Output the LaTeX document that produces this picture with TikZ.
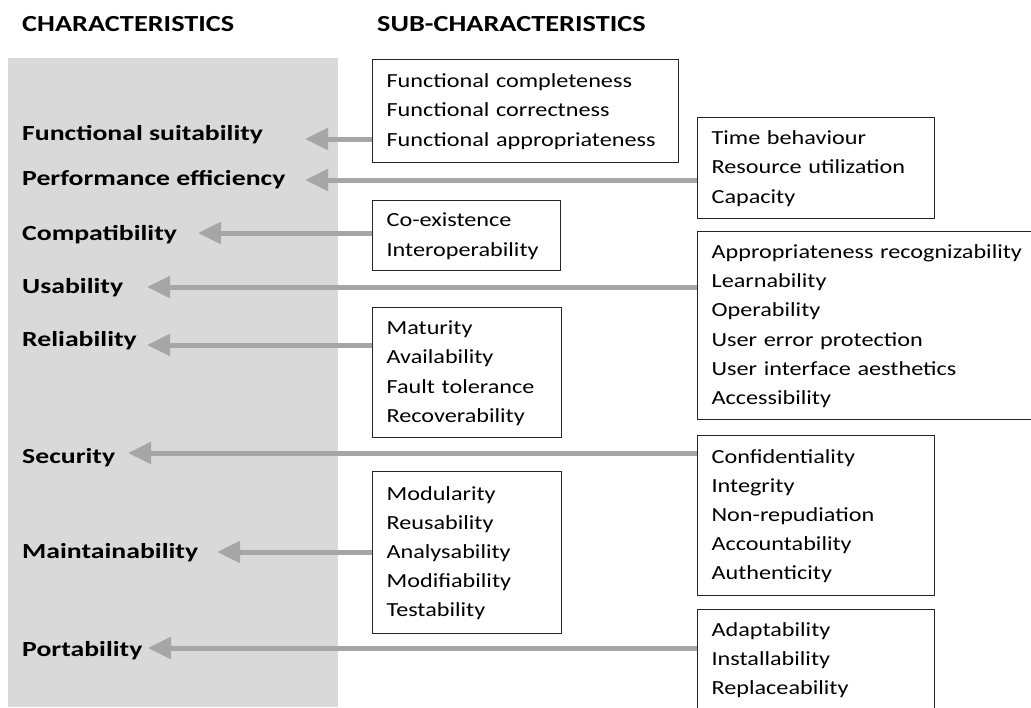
\documentclass[tikz,border=0pt]{standalone}
\usepackage{fontspec}
\setmainfont{Carlito}
\newfontfamily\subfont{Carlito}[FakeStretch=1.21]
\newfontfamily\labfont{Carlito}[FakeStretch=1.29]
\newfontfamily\headfont{Carlito}[FakeStretch=1.23]
\usetikzlibrary{arrows.meta}
\definecolor{band}{HTML}{D9D9D9}
\definecolor{arrowgray}{HTML}{A6A6A6}
\newcommand{\lines}[1]{\raisebox{-1.5pt}{\begin{tabular}{@{}l@{}}#1\end{tabular}}}
\tikzset{
  head/.style={font=\headfont\bfseries\fontsize{23}{27}\selectfont, anchor=west, inner sep=0pt},
  charlabel/.style={font=\labfont\bfseries\fontsize{21.5}{26}\selectfont, anchor=west, inner sep=0pt},
  subbox/.style={draw=black!85, line width=1.2pt, anchor=north west, align=left,
    inner xsep=14pt, inner ysep=0pt, font=\subfont\fontsize{20}{29.2}\selectfont},
  conn/.style={draw=arrowgray, line width=5pt, -{Triangle[length=23pt,width=21pt]}}
}
\begin{document}
\begin{tikzpicture}[x=1pt,y=-1pt]
\useasboundingbox (0,0) rectangle (1031,707);
\fill[white] (0,0) rectangle (1031,707);
\fill[band] (8,58) rectangle (338,707);

\node[head] (h1) at (22,24) {CHARACTERISTICS};
\node[head] (h2) at (377,24) {SUB-CHARACTERISTICS};

% characteristics
\node[charlabel] (fs) at (22,135) {Functional suitability};
\node[charlabel] (pe) at (22,180) {Performance efficiency};
\node[charlabel] (co) at (22,235) {Compatibility};
\node[charlabel] (us) at (22,288) {Usability};
\node[charlabel] (re) at (22,341) {Reliability};
\node[charlabel] (se) at (22,458) {Security};
\node[charlabel] (ma) at (22,553) {Maintainability};
\node[charlabel] (po) at (22,651) {Portability};

% sub-characteristic boxes
\node[subbox, text width=278pt, minimum height=103pt] (b1) at (372,59)
  {\lines{Functional completeness\\Functional correctness\\Functional appropriateness}};
\node[subbox, text width=209pt, minimum height=101pt] (b2) at (697,117)
  {\lines{Time behaviour\\Resource utilization\\Capacity}};
\node[subbox, text width=160pt, minimum height=70pt] (b3) at (372,200)
  {\lines{Co-existence\\Interoperability}};
\node[subbox, text width=312pt, minimum height=188pt] (b4) at (697,231)
  {\lines{Appropriateness recognizability\\Learnability\\Operability\\User error protection\\User interface aesthetics\\Accessibility}};
\node[subbox, text width=161pt, minimum height=130pt] (b5) at (372,307)
  {\lines{Maturity\\Availability\\Fault tolerance\\Recoverability}};
\node[subbox, text width=209pt, minimum height=160pt] (b6) at (697,435)
  {\lines{Confidentiality\\Integrity\\Non-repudiation\\Accountability\\Authenticity}};
\node[subbox, text width=161pt, minimum height=162pt] (b7) at (372,471)
  {\lines{Modularity\\Reusability\\Analysability\\Modifiability\\Testability}};
\node[subbox, text width=209pt, minimum height=100pt] (b8) at (697,609)
  {\lines{Adaptability\\Installability\\Replaceability}};

% arrow tips
\coordinate (tfs) at (305,139);
\coordinate (tpe) at (305,180);
\coordinate (tco) at (198,233);
\coordinate (tus) at (147,287);
\coordinate (tre) at (147,345);
\coordinate (tse) at (128,453);
\coordinate (tma) at (217,552);
\coordinate (tpo) at (148,648);

\draw[conn] (b1.west |- tfs) -- (tfs);
\draw[conn] (b2.west |- tpe) -- (tpe);
\draw[conn] (b3.west |- tco) -- (tco);
\draw[conn] (b4.west |- tus) -- (tus);
\draw[conn] (b5.west |- tre) -- (tre);
\draw[conn] (b6.west |- tse) -- (tse);
\draw[conn] (b7.west |- tma) -- (tma);
\draw[conn] (b8.west |- tpo) -- (tpo);
\end{tikzpicture}
\end{document}
